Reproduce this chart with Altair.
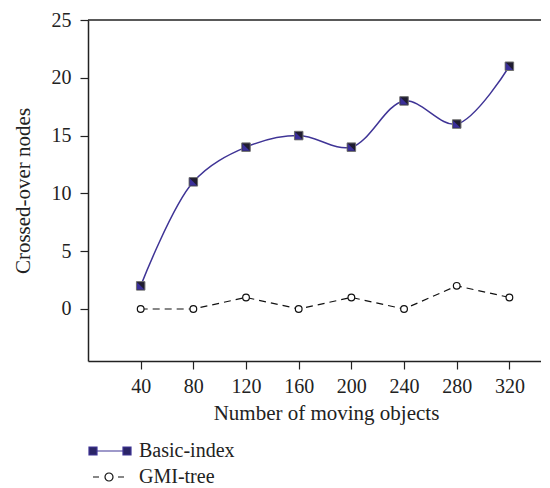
import altair as alt
import pandas as pd

# ---- data ----
x_values = [40, 80, 120, 160, 200, 240, 280, 320]
basic_index = [2, 11, 14, 15, 14, 18, 16, 21]
gmi_tree = [0, 0, 1, 0, 1, 0, 2, 1]
series_names = ["Basic-index", "GMI-tree"]
x_ticks = [40, 80, 120, 160, 200, 240, 280, 320]
y_ticks = [0, 5, 10, 15, 20, 25]

df = pd.DataFrame({
    "objects": x_values + x_values,
    "nodes": basic_index + gmi_tree,
    "series": [series_names[0]] * len(x_values) + [series_names[1]] * len(x_values),
})
top_df = pd.DataFrame({"top": [max(y_ticks)]})

FONT = "Liberation Serif"
TXT = "#222222"
DARK_FILL = "#1f1c30"
NAVY_FILL = "#2a2466"
TRI_FILL = "#3b2f9a"
NAVY_LINE = "#3f3496"

x_enc = alt.X(
    "objects:Q",
    scale=alt.Scale(domain=[0, 344], nice=False, zero=False),
    axis=alt.Axis(values=x_ticks, title="Number of moving objects", labelPadding=7,
                  titlePadding=6, titleX=238, tickSize=8, labelFontSize=20,
                  titleFontSize=21, labelFlush=False, labelOverlap=False),
)
y_enc = alt.Y(
    "nodes:Q",
    scale=alt.Scale(domain=[-4.5, 25], nice=False, zero=False),
    axis=alt.Axis(values=y_ticks, title="Crossed-over nodes", labelPadding=9,
                  titlePadding=18, tickSize=8, labelFontSize=20, titleFontSize=21),
)

base = alt.Chart(df).encode(x=x_enc, y=y_enc)
basic = base.transform_filter(alt.datum.series == series_names[0])
gmi = base.transform_filter(alt.datum.series == series_names[1])

top_rule = alt.Chart(top_df).mark_rule(color=TXT, strokeWidth=1.5).encode(
    y=alt.Y("top:Q")
)

gmi_line = gmi.mark_line(color="#111111", strokeDash=[7, 5], strokeWidth=1.2)
gmi_pts = gmi.mark_point(shape="circle", filled=True, fill="white", stroke="#111111",
                         strokeWidth=1.2, size=45, opacity=1)
basic_line = basic.mark_line(interpolate="catmull-rom", color=NAVY_LINE, strokeWidth=1.5)
basic_pts = basic.mark_square(size=72, fill=DARK_FILL, stroke="#707070",
                              strokeWidth=1, opacity=1)
basic_tri = basic.mark_point(shape="M-0.86,-0.86L0.86,0.86L-0.86,0.86Z", size=72,
                             filled=True, fill=TRI_FILL, strokeWidth=0, opacity=1)

path_basic = "M-21,-4h8v8h-8Z M-13,0H13 M13,-4h8v8h-8Z"
path_gmi = "M-17,0H-11 M-5,0A4,4 0 1,0 3,0A4,4 0 1,0 -5,0 M8,0H14"

leg = alt.Legend(title=None, orient="none", legendX=12, legendY=421, symbolSize=4,
                 symbolStrokeWidth=1.2, labelOffset=19, labelFont=FONT,
                 labelFontSize=20, labelColor=TXT, rowPadding=6, padding=0)

legend_layer = base.mark_point(size=0, filled=True, opacity=1).encode(
    shape=alt.Shape("series:N", scale=alt.Scale(domain=series_names, range=[path_basic, path_gmi]), legend=leg),
    fill=alt.Fill("series:N", scale=alt.Scale(domain=series_names, range=[NAVY_FILL, "white"]), legend=leg),
    stroke=alt.Stroke("series:N", scale=alt.Scale(domain=series_names, range=[NAVY_LINE, "#111111"]), legend=leg),
)

chart = alt.layer(
    top_rule, gmi_line, gmi_pts, basic_line, basic_pts, basic_tri, legend_layer
).properties(
    width=453, height=341,
    autosize=alt.AutoSizeParams(type="none"),
    padding={"left": 80, "top": 12, "right": 0, "bottom": 127},
).configure_view(stroke=None).configure_axis(
    grid=False, domainColor=TXT, tickColor=TXT, domainWidth=1.5, tickWidth=1.2,
    labelColor=TXT, titleColor=TXT, labelFont=FONT, titleFont=FONT,
    titleFontWeight="normal",
)

chart.save("out.html", embed_options={"renderer": "svg", "actions": False})
